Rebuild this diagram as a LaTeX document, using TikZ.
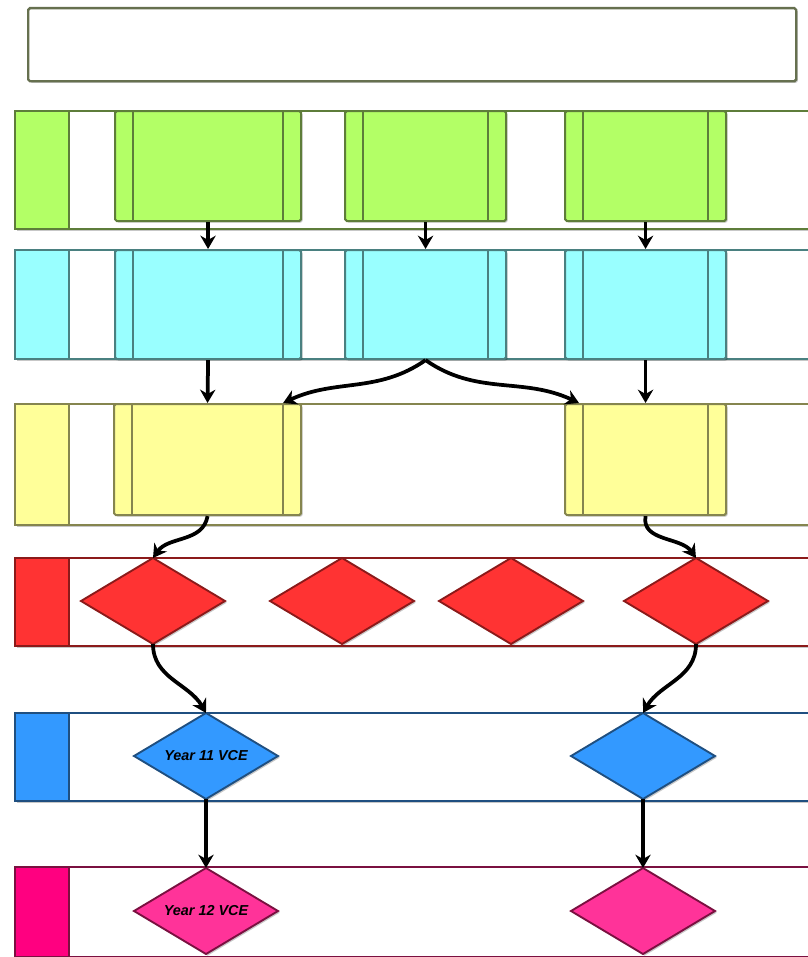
\documentclass[tikz,border=0pt]{standalone}
\usepackage{fontspec}
\setsansfont{Liberation Sans}
\usepackage{tikz}
\usetikzlibrary{shapes,arrows,positioning,calc,shadows,arrows.meta}

\definecolor{greenfill}{HTML}{B3FF66}
\definecolor{greenline}{HTML}{5E7D3A}
\definecolor{cyanfill}{HTML}{99FFFF}
\definecolor{cyanline}{HTML}{4A8080}
\definecolor{yellowfill}{HTML}{FFFF99}
\definecolor{yellowline}{HTML}{85854F}
\definecolor{redfill}{HTML}{FF3333}
\definecolor{redline}{HTML}{8B1A1A}
\definecolor{bluefill}{HTML}{3399FF}
\definecolor{blueline}{HTML}{1F4F80}
\definecolor{pinkfill}{HTML}{FF3399}
\definecolor{pinkstrip}{HTML}{FF0080}
\definecolor{pinkline}{HTML}{7A1040}
\definecolor{titleline}{HTML}{66704F}

\tikzset{
  softshadow/.style={drop shadow={shadow xshift=0.5mm, shadow yshift=-0.5mm, fill=black, opacity=0.22}},
  titlebox/.style={draw=titleline, fill=white, line width=2pt, rounded corners=1.5pt, softshadow, anchor=north west},
  lane/.style 2 args={draw=#2, fill=white, line width=2pt, minimum width=246mm, anchor=north west, softshadow,
    path picture={
      \fill[#1] (path picture bounding box.north west) rectangle ([xshift=16.2mm]path picture bounding box.south west);
      \draw[#2, line width=2pt] ([xshift=16.2mm]path picture bounding box.north west) -- ([xshift=16.2mm]path picture bounding box.south west);
    }},
  stagebox/.style 2 args={draw=#2, fill=#1, line width=1.8pt, rounded corners=1.5pt, anchor=north west, softshadow,
    path picture={
      \draw[#2, line width=1.8pt] ([xshift=5.4mm]path picture bounding box.north west) -- ([xshift=5.4mm]path picture bounding box.south west)
        ([xshift=-5.4mm]path picture bounding box.north east) -- ([xshift=-5.4mm]path picture bounding box.south east);
    }},
  choice/.style 2 args={shape=diamond, aspect=1.67, draw=#2, fill=#1, line width=1.6pt, minimum width=43.2mm, minimum height=25.8mm,
    inner sep=0pt, outer sep=0pt, softshadow, font=\sffamily\bfseries\itshape\fontsize{12.3}{13}\selectfont},
  flow/.style={-{Stealth[length=4mm,width=4.6mm]}, line width=3.2pt, black},
}

\begin{document}
\begin{tikzpicture}[x=0.3mm, y=0.3mm]
\useasboundingbox (0,0) rectangle (808,-957);

% heading
\node[titlebox, minimum width=230.4mm, minimum height=21.9mm] (title) at (27,-7) {};

% lanes
\node[lane={greenfill}{greenline}, minimum height=35.4mm] (laneA) at (14,-110) {};
\node[lane={cyanfill}{cyanline}, minimum height=32.7mm] (laneB) at (14,-249) {};
\node[lane={yellowfill}{yellowline}, minimum height=36.3mm] (laneC) at (14,-403) {};
\node[lane={redfill}{redline}, minimum height=26.4mm] (laneD) at (14,-557) {};
\node[lane={bluefill}{blueline}, minimum height=26.4mm] (laneE) at (14,-712) {};
\node[lane={pinkstrip}{pinkline}, minimum height=27mm] (laneF) at (14,-866) {};

% green row
\node[stagebox={greenfill}{greenline}, minimum width=55.8mm, minimum height=33mm] (g1) at (114,-110) {};
\node[stagebox={greenfill}{greenline}, minimum width=48.3mm, minimum height=33mm] (g2) at (344,-110) {};
\node[stagebox={greenfill}{greenline}, minimum width=48.3mm, minimum height=33mm] (g3) at (564,-110) {};

% cyan row
\node[stagebox={cyanfill}{cyanline}, minimum width=55.8mm, minimum height=32.7mm] (c1) at (114,-249) {};
\node[stagebox={cyanfill}{cyanline}, minimum width=48.3mm, minimum height=32.7mm] (c2) at (344,-249) {};
\node[stagebox={cyanfill}{cyanline}, minimum width=48.3mm, minimum height=32.7mm] (c3) at (564,-249) {};

% yellow row
\node[stagebox={yellowfill}{yellowline}, minimum width=56.1mm, minimum height=33.3mm] (y1) at (113,-403) {};
\node[stagebox={yellowfill}{yellowline}, minimum width=48.3mm, minimum height=33.3mm] (y3) at (564,-403) {};

% red row
\node[choice={redfill}{redline}] (r1) at (153,-601) {};
\node[choice={redfill}{redline}] (r2) at (342,-601) {};
\node[choice={redfill}{redline}] (r3) at (511,-601) {};
\node[choice={redfill}{redline}] (r4) at (696,-601) {};

% blue row
\node[choice={bluefill}{blueline}] (b1) at (206,-756) {Year 11 VCE};
\node[choice={bluefill}{blueline}] (b2) at (643,-756) {};

% pink row
\node[choice={pinkfill}{pinkline}] (p1) at (206,-911) {Year 12 VCE};
\node[choice={pinkfill}{pinkline}] (p2) at (643,-911) {};

% connectors
\draw[flow] (g1.south) -- (c1.north);
\draw[flow] (g2.south) -- (c2.north);
\draw[flow] (g3.south) -- (c3.north);
\draw[flow] (c1.south) -- (y1.north);
\draw[flow] (c2.south) to[out=-145, in=25] ([xshift=-5.7mm]y1.north east);
\draw[flow] (c2.south) to[out=-35, in=155] ([xshift=4.5mm]y3.north west);
\draw[flow] (c3.south) -- (y3.north);
\draw[flow] (y1.south) to[out=-100, in=55] (r1.north);
\draw[flow] (y3.south) to[out=-100, in=125] (r4.north);
\draw[flow] (r1.south) to[out=-90, in=120] (b1.north);
\draw[flow] (r4.south) to[out=-90, in=60] (b2.north);
\draw[flow] (b1.south) -- (p1.north);
\draw[flow] (b2.south) -- (p2.north);
\end{tikzpicture}
\end{document}
